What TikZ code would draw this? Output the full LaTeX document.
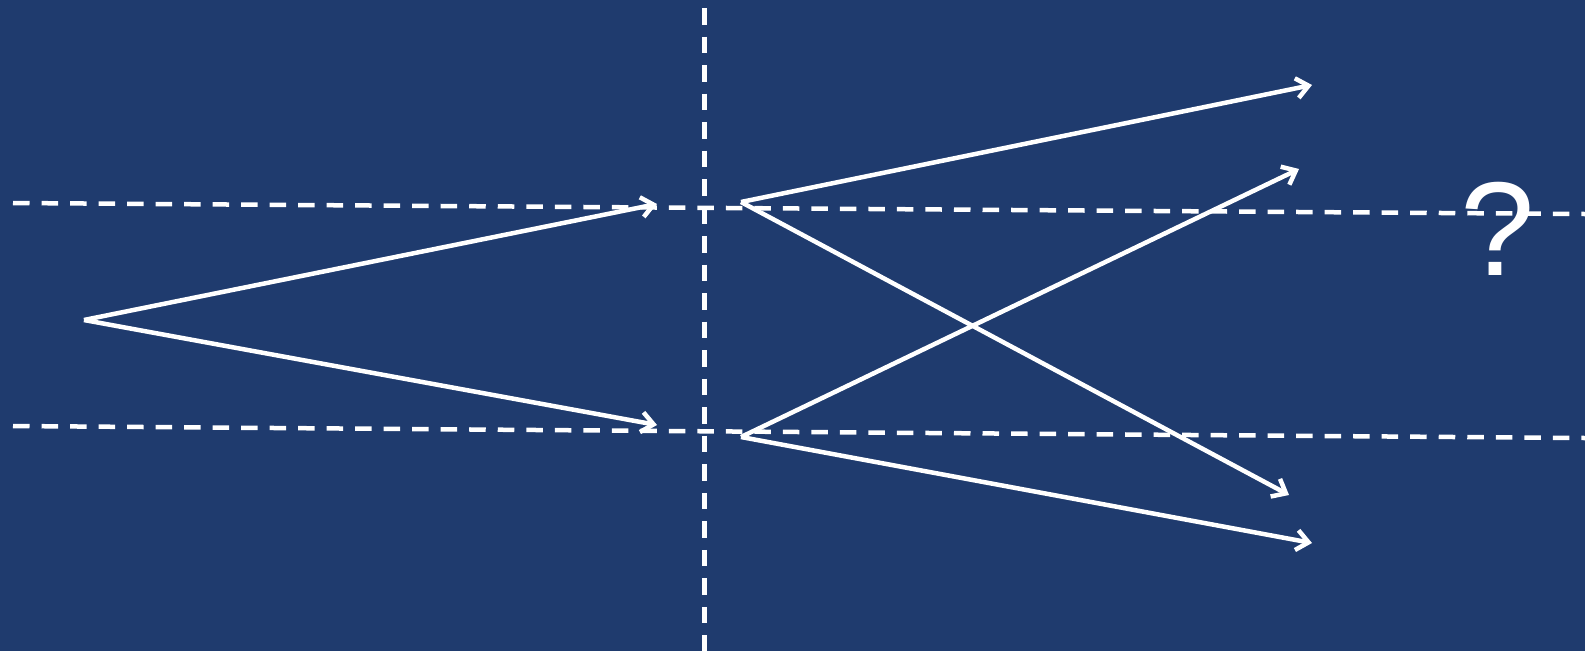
\documentclass[tikz,border=0pt]{standalone}
\usepackage{fontspec}
\setmainfont{Liberation Sans}
\usetikzlibrary{arrows.meta}
\definecolor{bgblue}{RGB}{31,59,110}
\tikzset{
  ray/.style={white,line width=0.045cm,-{Straight Barb[length=0.12cm,width=0.2cm,line width=0.045cm]}},
  guide/.style={white,line width=0.045cm,dash pattern=on 0.165cm off 0.12cm},
}
\begin{document}
\begin{tikzpicture}[x={(0.01cm,0)},y={(0,-0.01cm)}]
    \fill[bgblue] (0,0) rectangle (1585,651);
    \useasboundingbox (0,0) rectangle (1585,651);
    % guide lines
    \coordinate (tl) at (13,203); \coordinate (tr) at (1585,214);
    \coordinate (bl) at (13,426); \coordinate (br) at (1585,438);
    \coordinate (vt) at (704.5,8); \coordinate (vb) at (704.5,651);
    \draw[guide] (tl) -- (tr);
    \draw[guide] (bl) -- (br);
    \draw[guide] (vt) -- (vb);
    % rays
    \coordinate (src) at (84,320);
    \coordinate (in1) at (657,204); \coordinate (in2) at (657,425);
    \coordinate (s1) at (741,202); \coordinate (s2) at (741,437);
    \coordinate (o1) at (1312,85); \coordinate (o2) at (1289,495);
    \coordinate (o3) at (1299,169); \coordinate (o4) at (1312,543);
    \draw[ray] (src) -- (in1);
    \draw[ray] (src) -- (in2);
    \draw[ray] (s1) -- (o1);
    \draw[ray] (s1) -- (o2);
    \draw[ray] (s2) -- (o3);
    \draw[ray] (s2) -- (o4);
    \node[white,font=\fontsize{38}{42}\selectfont] (q) at (1498,229) {?};
\end{tikzpicture}
\end{document}
